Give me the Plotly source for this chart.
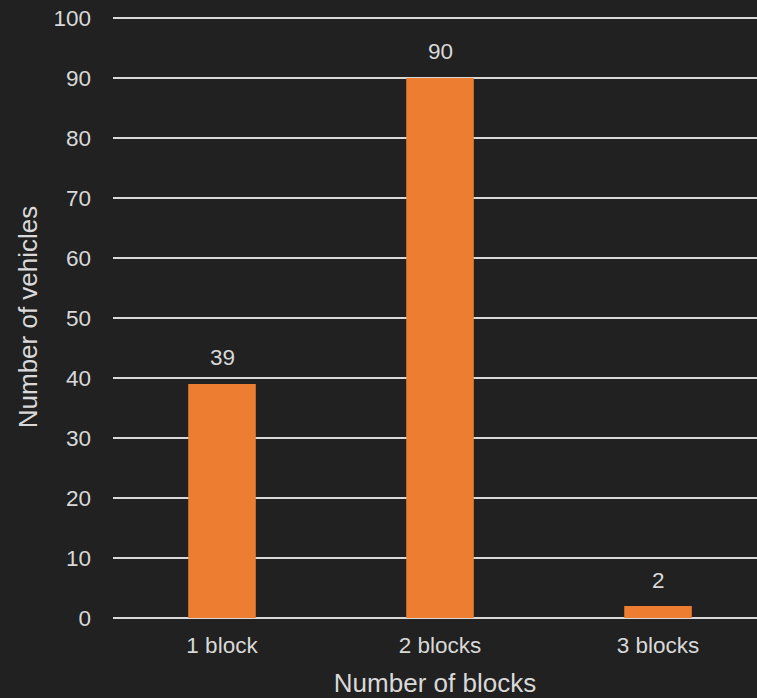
import plotly.graph_objects as go

categories = ["1 block", "2 blocks", "3 blocks"]
vehicles = [39, 90, 2]

txt = "#d9d9d9"
bg = "#212121"
fnt = "Liberation Sans, Arial, sans-serif"
tick_size = 22.5
title_size = 26

fig = go.Figure()
fig.add_trace(go.Bar(x=categories, y=vehicles, marker=dict(color="#ed7d31", line=dict(width=0)),
                     width=0.31, hoverinfo="skip"))
for c, v in zip(categories, vehicles):
    fig.add_annotation(x=c, y=v, text=str(v), showarrow=False, yshift=26, yanchor="middle",
                       font=dict(color=txt, size=tick_size, family=fnt))

fig.update_layout(
    width=757, height=698,
    paper_bgcolor=bg, plot_bgcolor=bg,
    margin=dict(l=113, r=0, t=16, b=80),
    showlegend=False,
    font=dict(family=fnt, color=txt, size=tick_size),
    xaxis=dict(type="category", range=[-0.5, 2.454], showgrid=False, showline=False, automargin=False,
               ticks="", ticklabelstandoff=11, tickfont=dict(size=tick_size, color=txt),
               title=dict(text="Number of blocks", font=dict(size=title_size, color=txt), standoff=18)),
    yaxis=dict(range=[0, 100.33], tickvals=list(range(0, 101, 10)), showgrid=True, gridcolor=txt, gridwidth=1.5,
               zeroline=True, zerolinecolor=txt, zerolinewidth=1.5, showline=False, automargin=False,
               ticks="", ticklabelstandoff=21, tickfont=dict(size=tick_size, color=txt),
               title=dict(text="Number of vehicles", font=dict(size=title_size, color=txt), standoff=8)),
)
fig.write_html("out.html")
